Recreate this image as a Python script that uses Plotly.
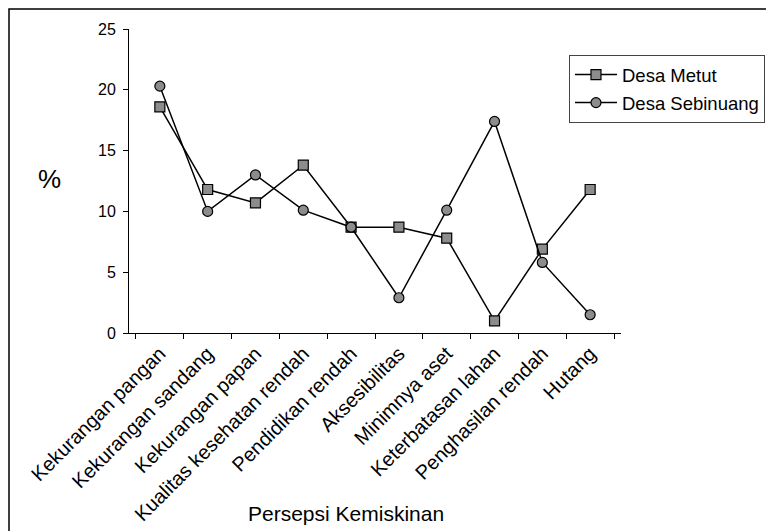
import plotly.graph_objects as go

categories = ["Kekurangan pangan", "Kekurangan sandang", "Kekurangan papan",
              "Kualitas kesehatan rendah", "Pendidikan rendah", "Aksesibilitas",
              "Minimnya aset", "Keterbatasan lahan", "Penghasilan rendah", "Hutang"]
metut = [18.6, 11.8, 10.7, 13.8, 8.7, 8.7, 7.8, 1.0, 6.9, 11.8]
sebinuang = [20.3, 10.0, 13.0, 10.1, 8.7, 2.9, 10.1, 17.4, 5.8, 1.5]
y_ticks = [0, 5, 10, 15, 20, 25]

FONT = "Liberation Sans, Arial, sans-serif"

fig = go.Figure()
fig.add_trace(go.Scatter(
    x=categories, y=metut, name="Desa Metut", mode="lines+markers",
    legendgroup="a",
    line=dict(color="black", width=1.5),
    marker=dict(symbol="square", size=10, color="#8c8c8c",
                line=dict(color="black", width=1.2)),
))
fig.add_trace(go.Scatter(
    x=categories, y=sebinuang, name="Desa Sebinuang", mode="lines+markers",
    legendgroup="b",
    line=dict(color="black", width=1.5),
    marker=dict(symbol="circle", size=10, color="#8c8c8c",
                line=dict(color="black", width=1.2)),
))

fig.update_layout(
    width=766, height=531,
    margin=dict(l=129, r=145, t=29, b=198, autoexpand=False),
    paper_bgcolor="white", plot_bgcolor="white",
    font=dict(family=FONT, size=16, color="black"),
    showlegend=True,
    legend=dict(xref="container", yref="container",
                x=0.7428, y=0.8964, xanchor="left", yanchor="top",
                bgcolor="white", bordercolor="#444", borderwidth=1,
                font=dict(size=18.5, family=FONT), itemwidth=42,
                tracegroupgap=1),
    xaxis=dict(type="category", showline=True, linecolor="black", linewidth=1,
               ticks="outside", tickson="boundaries", ticklen=5,
               tickcolor="black", tickangle=-45, showgrid=False,
               tickfont=dict(size=20, family=FONT), fixedrange=True,
               automargin=False),
    yaxis=dict(range=[0, 25], tickvals=y_ticks, showline=True, linecolor="black",
               linewidth=1, ticks="outside", ticklen=5, tickcolor="black",
               showgrid=False, zeroline=False, tickfont=dict(size=16, family=FONT),
               ticklabelstandoff=4, fixedrange=True, automargin=False),
    annotations=[
        dict(text="Persepsi Kemiskinan", xref="paper", yref="paper",
             x=0.441, y=-0.595, xanchor="center", yanchor="middle",
             showarrow=False, font=dict(size=21, family=FONT)),
        dict(text="%", xref="paper", yref="paper",
             x=-0.1606, y=0.507, xanchor="center", yanchor="middle",
             showarrow=False, font=dict(size=26, family=FONT)),
    ],
    shapes=[
        dict(type="rect", xref="paper", yref="paper",
             x0=-0.2439, y0=-1.0, x1=1.5, y1=1.0658,
             line=dict(color="black", width=1.5), fillcolor="rgba(0,0,0,0)"),
    ],
)

fig.write_html("out.html", config={"displayModeBar": False},
               post_script="document.body.style.margin='0';document.body.style.padding='0';")
